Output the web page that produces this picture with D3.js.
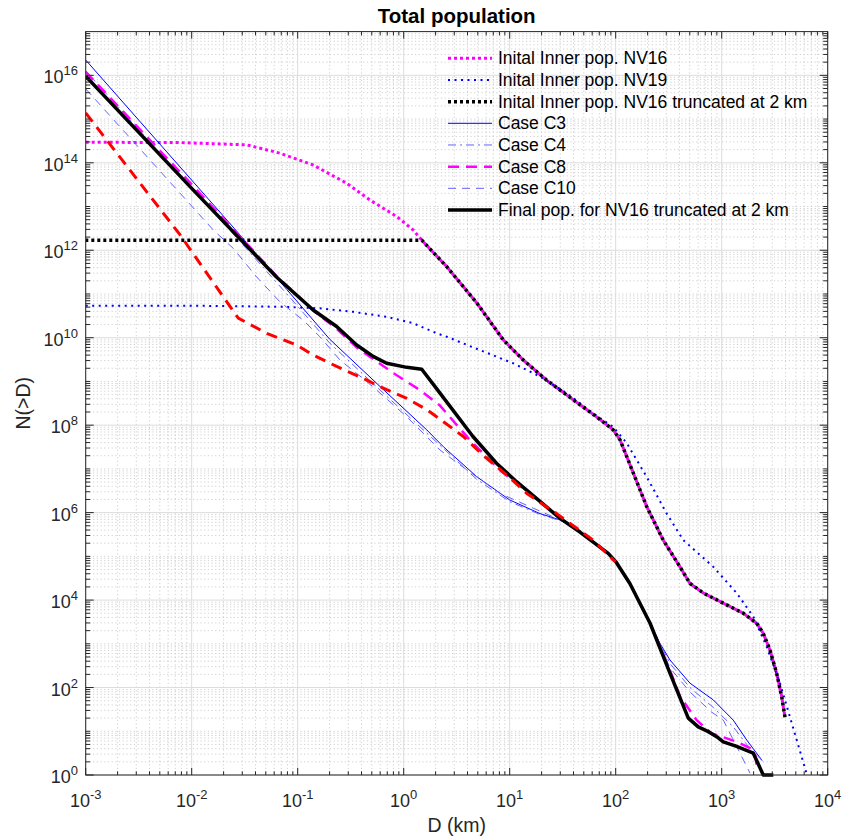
<!DOCTYPE html>
<html><head><meta charset="utf-8">
<script src="https://cdn.jsdelivr.net/npm/d3@7"></script>
<style>
body{margin:0;background:#fff}
text{font-family:"Liberation Sans",Arial,Helvetica,sans-serif;fill:#262626}
</style>
</head><body>
<svg id="chart" width="845" height="839"></svg>
<script>
// ---------- DATA ----------
const xTickExp = [-3,-2,-1,0,1,2,3,4];
const yTickExp = [0,2,4,6,8,10,12,14,16];

const nv16D = [0.001,0.00776,0.033,0.068,0.14,0.29,0.48,0.86,1.23,1.48,2.55,4.9,8.7,13.4,22.3,39.8,66,94.8,110,147,196,281,404,502,671,1035,1600,2138,2466,2851,3296,3681,3954];
const nv16N = [2.95e14,2.9e14,2.57e14,1.66e14,8.9e13,3.4e13,1.41e13,5.9e12,2.9e12,1.7e12,4.2e11,6.2e10,8.9e9,3.1e9,1.07e9,3.8e8,1.55e8,7.8e7,4.6e7,7.9e6,1.38e6,2.34e5,5.75e4,2.4e4,1.45e4,8500,5000,2950,1740,724,214,62,21];

const nv19D = [0.001,0.01,0.068,0.162,0.334,0.69,1.23,2.05,2.55,5.25,10.8,19.3,34.5,61.5,94.8,127,196,303,435,834,1384,1986,2660,3548,4406,6310];
const nv19N = [5.4e10,5.4e10,5.1e10,4.7e10,3.9e10,3.0e10,2.14e10,1.26e10,1.05e10,5.2e9,2.6e9,1.29e9,5.4e8,1.86e8,9.1e7,3.9e7,6.6e6,9.5e5,2.34e5,5.75e4,1.45e4,4200,850,126,21,1.1];

const truncD = [0.001,1.48,2.55,4.9,8.7,13.4,22.3,39.8,66,94.8,110,147,196,281,404,502,671,1035,1600,2138,2466,2851,3296,3681,3954];
const truncN = [1.7e12,1.7e12,4.2e11,6.2e10,8.9e9,3.1e9,1.07e9,3.8e8,1.55e8,7.8e7,4.6e7,7.9e6,1.38e6,2.34e5,5.75e4,2.4e4,1.45e4,8500,5000,2950,1740,724,214,62,21];

const c3D = [0.001,0.0251,0.079,0.2,0.6,1.65,2.37,4.9,10,19.3,29.9,46,85,100,136,211,263,325,502,834,1285,1722,2388];
const c3N = [2.24e16,3.2e12,1.26e11,9.3e9,7.6e8,7.8e7,3.2e7,6.6e6,1.95e6,9.5e5,6.8e5,3.6e5,1.17e5,7.6e4,2.4e4,2950,1000,427,126,52,18,6.3,2.2];

const c4D = [0.001,0.0251,0.079,0.2,0.6,1.65,4.9,10,19.3,31.6,46,85,100,136,211,263,325,502,834,1285,1722,2466];
const c4N = [1.26e16,2.24e12,1.0e11,7.6e9,6.3e8,6.6e7,5.75e6,1.78e6,9.1e5,6.3e5,3.6e5,1.17e5,7.6e4,2.4e4,2950,1000,355,100,35,12.6,5,2];

const c8D = [0.001,0.01,0.063,0.14,0.233,0.36,0.8,1.43,2.2,4.2,8.1,11.6,19.3,29.9,46,85,100,136,211,325,405,580,805,1115,1384,1850,2060,2140];
const c8N = [1.2e16,3.2e13,2.6e11,4.2e10,1.6e10,6.0e9,1.55e9,6.3e8,2.8e8,4.6e7,9.3e6,4.7e6,1.8e6,7.4e5,3.6e5,1.17e5,7.6e4,2.4e4,2950,250,62,18,8.9,6.9,5.75,4.1,3.16,1.6];

const c10D = [0.001,0.016,0.0247,0.041,0.068,0.113,0.162,0.25,0.447,0.69,1.07,2.2,3.4,8.1,16.7,27.7,35.5,46,85,100,136,211,325,502,794,1035,1490,1850];
const c10N = [4.9e15,2.9e12,1.1e12,2.45e11,6.6e10,2.5e10,1.05e10,3.1e9,1.0e9,4.0e8,1.55e8,2.7e7,1.23e7,2.75e6,1.26e6,7.4e5,5.6e5,3.6e5,1.17e5,7.6e4,2.4e4,2950,282,79,28,18,3.16,1.1];

const finalD = [0.001,0.01,0.063,0.14,0.233,0.36,0.52,0.69,1.07,1.48,2.2,4.5,7.5,11.6,19.3,29.9,46,85,100,136,211,325,484,601,748,897,1035,1384,1986,2466,3069];
const finalN = [9.5e15,2.6e13,2.45e11,4.3e10,1.8e10,6.8e9,3.7e9,2.6e9,2.1e9,1.9e9,5.4e8,5.5e7,1.35e7,5.1e6,1.8e6,7.4e5,3.6e5,1.17e5,7.6e4,2.4e4,2950,214,20,12.6,9.8,7.5,5.75,4.5,3.16,1,1];

const redD = [0.001,0.00778,0.0275,0.051,0.098,0.14,0.233,0.416,0.597,1.07,1.66,2.37,3.65,6.07,9.4,14.5,27.7,61.5,94.8,100];
const redN = [1.38e15,2.24e12,2.8e10,1.26e10,6.8e9,4.0e9,2.2e9,1.17e9,7.6e8,4.1e8,2.24e8,1.2e8,5.5e7,1.74e7,7.2e6,2.75e6,9.5e5,2.34e5,8.3e4,7.6e4];

const legendLabels = ["Inital Inner pop. NV16","Inital Inner pop. NV19","Inital Inner pop. NV16 truncated at 2 km","Case C3","Case C4","Case C8","Case C10","Final pop. for NV16 truncated at 2 km"];

// ---------- STYLES ----------
const styles = {
  nv16:{stroke:"#ff00ff",w:3,dash:"3,3"},
  nv19:{stroke:"#0000ff",w:2,dash:"2,4.5"},
  trunc:{stroke:"#000000",w:3.5,dash:"3,3"},
  c3:{stroke:"#0000ff",w:1,dash:null},
  c4:{stroke:"#6262ff",w:1,dash:"8,4,2,4"},
  c8:{stroke:"#ff00ff",w:2.5,dash:"11,7"},
  c10:{stroke:"#6262ff",w:1,dash:"8,6"},
  fin:{stroke:"#000000",w:3.5,dash:null},
  red:{stroke:"#ff0000",w:3,dash:"11,7"}
};

const L=85.7, R=827.7, T=31.6, B=775;
const svg = d3.select("#chart");
const x = d3.scaleLog().domain([1e-3,1e4]).range([L,R]);
const y = d3.scaleLog().domain([1,1e17]).range([B,T]);

// grid
const g = svg.append("g");
const minorX=[], minorY=[];
for(let k=-3;k<4;k++) for(let m=2;m<=9;m++) minorX.push(m*Math.pow(10,k));
for(let k=0;k<17;k++){ if(k%2===1) minorY.push(Math.pow(10,k)); for(let m=2;m<=9;m++) minorY.push(m*Math.pow(10,k)); }
const majorX = xTickExp.map(e=>Math.pow(10,e));
const majorY = yTickExp.map(e=>Math.pow(10,e));

g.selectAll(".mgx").data(minorX).join("line").attr("x1",d=>x(d)).attr("x2",d=>x(d)).attr("y1",T).attr("y2",B)
  .attr("stroke","#c4c4c4").attr("stroke-width",0.8).attr("stroke-dasharray","1.2,2.5");
g.selectAll(".mgy").data(minorY).join("line").attr("y1",d=>y(d)).attr("y2",d=>y(d)).attr("x1",L).attr("x2",R)
  .attr("stroke","#c4c4c4").attr("stroke-width",0.8).attr("stroke-dasharray","1.2,2.5");
g.selectAll(".Mgx").data(majorX).join("line").attr("x1",d=>x(d)).attr("x2",d=>x(d)).attr("y1",T).attr("y2",B)
  .attr("stroke","#dcdcdc").attr("stroke-width",1);
g.selectAll(".Mgy").data(majorY).join("line").attr("y1",d=>y(d)).attr("y2",d=>y(d)).attr("x1",L).attr("x2",R)
  .attr("stroke","#dcdcdc").attr("stroke-width",1);

// clip
svg.append("clipPath").attr("id","clip").append("rect").attr("x",L).attr("y",T).attr("width",R-L).attr("height",B-T+2);

const line = d3.line().x(d=>x(d[0])).y(d=>y(d[1]));
const series = [
  ["nv16",nv16D,nv16N,styles.nv16],
  ["nv19",nv19D,nv19N,styles.nv19],
  ["trunc",truncD,truncN,styles.trunc],
  ["c3",c3D,c3N,styles.c3],
  ["c4",c4D,c4N,styles.c4],
  ["c8",c8D,c8N,styles.c8],
  ["c10",c10D,c10N,styles.c10],
  ["fin",finalD,finalN,styles.fin],
  ["red",redD,redN,styles.red]
];
const lg = svg.append("g").attr("clip-path","url(#clip)");
const paths = {};
series.forEach(([key,D,N,s])=>{
  paths[key] = lg.append("path").datum(D.map((d,i)=>[d,N[i]])).attr("d",line)
    .attr("fill","none").attr("stroke",s.stroke).attr("stroke-width",s.w)
    .attr("stroke-dasharray",s.dash).attr("stroke-linejoin","round");
});
// phase the black dotted so its dots fall in the magenta gaps where both curves coincide
(function(){
  const jD = truncD[1];
  const idx = nv16D.indexOf(jD);
  const tmp = svg.append("path").attr("d", line(nv16D.slice(0,idx+1).map((d,i)=>[d,nv16N[i]])));
  const L1 = tmp.node().getTotalLength(); tmp.remove();
  const L2 = x(jD) - x(truncD[0]);
  const off = (((L1 + 3 - L2) % 6) + 6) % 6;
  paths.trunc.attr("stroke-dashoffset", off);
})();

// axes box and ticks
const ax = svg.append("g").attr("stroke","#262626").attr("stroke-width",1);
ax.append("rect").attr("x",L).attr("y",T).attr("width",R-L).attr("height",B-T).attr("fill","none");
function xt(vals,len){ vals.forEach(v=>{ const px=x(v);
  ax.append("line").attr("x1",px).attr("x2",px).attr("y1",B).attr("y2",B-len);
  ax.append("line").attr("x1",px).attr("x2",px).attr("y1",T).attr("y2",T+len);});}
function yt(vals,len){ vals.forEach(v=>{ const py=y(v);
  ax.append("line").attr("y1",py).attr("y2",py).attr("x1",L).attr("x2",L+len);
  ax.append("line").attr("y1",py).attr("y2",py).attr("x1",R).attr("x2",R-len);});}
xt(majorX,7); xt(minorX,3.7); yt(majorY,8); yt(minorY,4.5);

// tick labels
xTickExp.forEach(e=>{
  const t = svg.append("text").attr("x",x(Math.pow(10,e))).attr("y",807).attr("text-anchor","middle").attr("font-size",18);
  t.append("tspan").text("10");
  t.append("tspan").attr("dy",-8).attr("font-size",13).text(String(e));
});
yTickExp.forEach(e=>{
  const t = svg.append("text").attr("x",78).attr("y",y(Math.pow(10,e))+8).attr("text-anchor","end").attr("font-size",18);
  t.append("tspan").text("10");
  t.append("tspan").attr("dy",-8).attr("font-size",13).text(String(e));
});

// labels
svg.append("text").attr("x",(L+R)/2).attr("y",23).attr("text-anchor","middle").attr("font-size",20.5).attr("font-weight","bold").style("fill","#000").text("Total population");
svg.append("text").attr("x",(L+R)/2).attr("y",832).attr("text-anchor","middle").attr("font-size",19.5).text("D (km)");
svg.append("text").attr("transform",`translate(30,${(T+B)/2}) rotate(-90)`).attr("text-anchor","middle").attr("font-size",19.5).text("N(>D)");

// legend
const legStyles=[styles.nv16,styles.nv19,styles.trunc,styles.c3,styles.c4,styles.c8,styles.c10,styles.fin];
const leg = svg.append("g");
legendLabels.forEach((lab,i)=>{
  const yy = 58.3 + i*21.67;
  const s = legStyles[i];
  leg.append("line").attr("x1",448).attr("x2",492).attr("y1",yy).attr("y2",yy)
    .attr("stroke",s.stroke).attr("stroke-width",s.w).attr("stroke-dasharray",s.dash);
  leg.append("text").attr("x",498).attr("y",yy+6).attr("font-size",17.5).style("fill","#000").text(lab);
});
</script>
</body></html>
